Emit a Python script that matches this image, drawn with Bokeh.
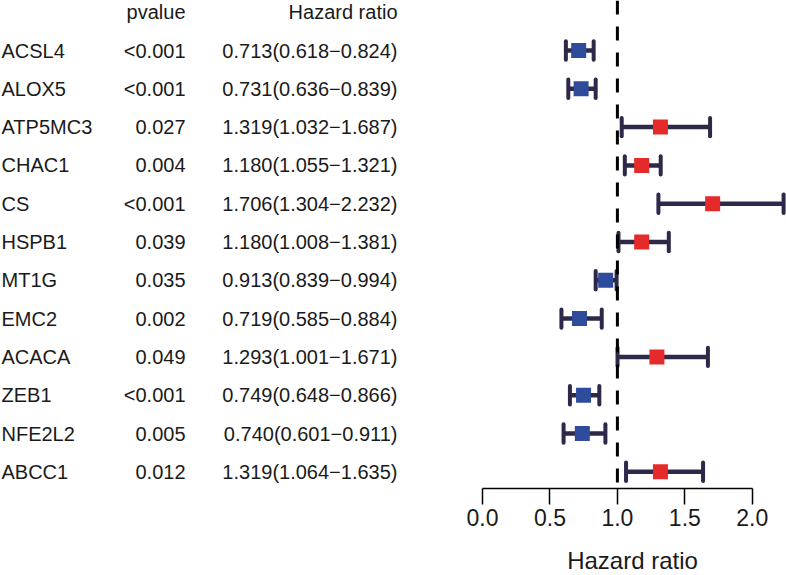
from bokeh.plotting import figure
from bokeh.layouts import column
from bokeh.models import (Range1d, LinearAxis, FixedTicker, PrintfTickFormatter,
                          Span, ColumnDataSource)
from bokeh.core.properties import value
from bokeh.embed import file_html
from bokeh.resources import INLINE

# ---------------- data ----------------
genes = ["ACSL4", "ALOX5", "ATP5MC3", "CHAC1", "CS", "HSPB1",
         "MT1G", "EMC2", "ACACA", "ZEB1", "NFE2L2", "ABCC1"]
pvalues = ["<0.001", "<0.001", "0.027", "0.004", "<0.001", "0.039",
           "0.035", "0.002", "0.049", "<0.001", "0.005", "0.012"]
hr = [0.713, 0.731, 1.319, 1.180, 1.706, 1.180, 0.913, 0.719, 1.293, 0.749, 0.740, 1.319]
lower = [0.618, 0.636, 1.032, 1.055, 1.304, 1.008, 0.839, 0.585, 1.001, 0.648, 0.601, 1.064]
upper = [0.824, 0.839, 1.687, 1.321, 2.232, 1.381, 0.994, 0.884, 1.671, 0.866, 0.911, 1.635]
tick_values = [0.0, 0.5, 1.0, 1.5, 2.0]
header_pvalue = "pvalue"
header_hr = "Hazard ratio"
x_label = "Hazard ratio"

# ---------------- layout ----------------
W, H = 786, 575
LABEL_H = 30                     # strip holding the x-axis title
MAIN_H = H - LABEL_H
FRAME_H = 488
BOTTOM = MAIN_H - FRAME_H        # space below the frame for the axis
PX_PER_UNIT = 134.9
ZERO_PX = 482.0
x_start = -ZERO_PX / PX_PER_UNIT
x_end = x_start + W / PX_PER_UNIT

ROW0_PX = 50.0
ROW_PX = 38.3
y_top = -ROW0_PX / ROW_PX
y_bottom = (FRAME_H - ROW0_PX) / ROW_PX


def px2x(px):
    return x_start + px / PX_PER_UNIT


FONT = "Liberation Sans"
TEXT_COLOR = "#1a1a1a"
BAR_COLOR = "#2e2849"
BLUE = "#2f4c9c"
RED = "#e42a2a"

rows = list(range(len(genes)))
colors = [RED if v > 1 else BLUE for v in hr]
hr_text = [f"{h:.3f}({l:.3f}\u2212{u:.3f})" for h, l, u in zip(hr, lower, upper)]

src = ColumnDataSource(dict(
    gene=genes, pval=pvalues, hrt=hr_text, hr=hr, lo=lower, up=upper,
    y=rows, ylo=[r - 0.24 for r in rows], yhi=[r + 0.24 for r in rows],
    color=colors,
    gx=[px2x(1)] * len(rows), px=[px2x(185)] * len(rows), hx=[px2x(397)] * len(rows),
))

xr = Range1d(x_start, x_end)
p = figure(width=W, height=MAIN_H, output_backend="svg", toolbar_location=None,
           x_axis_location=None, y_axis_location=None,
           x_range=xr, y_range=Range1d(y_bottom, y_top),
           min_border_left=0, min_border_right=0, min_border_top=0,
           min_border_bottom=BOTTOM)
p.outline_line_color = None
p.grid.visible = False
p.background_fill_color = "white"
p.border_fill_color = "white"

# text columns
p.text(x="gx", y="y", text="gene", source=src, text_align="left", text_baseline="middle",
       text_font=value(FONT), text_font_size="20px", text_color=TEXT_COLOR)
p.text(x="px", y="y", text="pval", source=src, text_align="right", text_baseline="middle",
       text_font=value(FONT), text_font_size="20px", text_color=TEXT_COLOR)
p.text(x="hx", y="y", text="hrt", source=src, text_align="right", text_baseline="middle",
       text_font=value(FONT), text_font_size="20px", text_color=TEXT_COLOR)
p.text(x=[px2x(185), px2x(397)], y=[-1, -1], text=[header_pvalue, header_hr],
       text_align="right", text_baseline="middle",
       text_font=value(FONT), text_font_size="20px", text_color=TEXT_COLOR)

# error bars
p.segment(x0="lo", y0="y", x1="up", y1="y", source=src, line_width=4.5, line_color=BAR_COLOR)
p.segment(x0="lo", y0="ylo", x1="lo", y1="yhi", source=src, line_width=4,
          line_color=BAR_COLOR, line_cap="round")
p.segment(x0="up", y0="ylo", x1="up", y1="yhi", source=src, line_width=4,
          line_color=BAR_COLOR, line_cap="round")
p.scatter(x="hr", y="y", source=src, marker="square", size=15,
          fill_color="color", line_color=None)

# reference line
p.add_layout(Span(location=1.0, dimension="height", line_color="black",
                  line_width=3, line_dash="14 12"))

# axis with ticks
ax = LinearAxis(bounds=(tick_values[0], tick_values[-1]),
                ticker=FixedTicker(ticks=tick_values),
                formatter=PrintfTickFormatter(format="%.1f"))
ax.axis_line_color = "black"
ax.axis_line_width = 1.5
ax.major_tick_line_color = "black"
ax.major_tick_line_width = 1.5
ax.major_tick_out = 16
ax.major_tick_in = 0
ax.minor_tick_line_color = None
ax.major_label_standoff = 4
ax.major_label_text_font = FONT
ax.major_label_text_font_size = "23px"
ax.major_label_text_color = TEXT_COLOR
p.add_layout(ax, "below")

# strip with the x-axis title, centred under the plotting region
q = figure(width=W, height=LABEL_H, output_backend="svg", toolbar_location=None,
           x_axis_location=None, y_axis_location=None,
           x_range=xr, y_range=Range1d(0, LABEL_H),
           min_border_left=0, min_border_right=0, min_border_top=0, min_border_bottom=0)
q.outline_line_color = None
q.grid.visible = False
q.background_fill_color = "white"
q.border_fill_color = "white"
q.text(x=[1.112], y=[LABEL_H - 15], text=[x_label], text_align="center",
       text_baseline="middle", text_font=value(FONT), text_font_size="24px",
       text_color=TEXT_COLOR)

layout = column(p, q, spacing=0)
open("out.html", "w").write(file_html(layout, INLINE))
